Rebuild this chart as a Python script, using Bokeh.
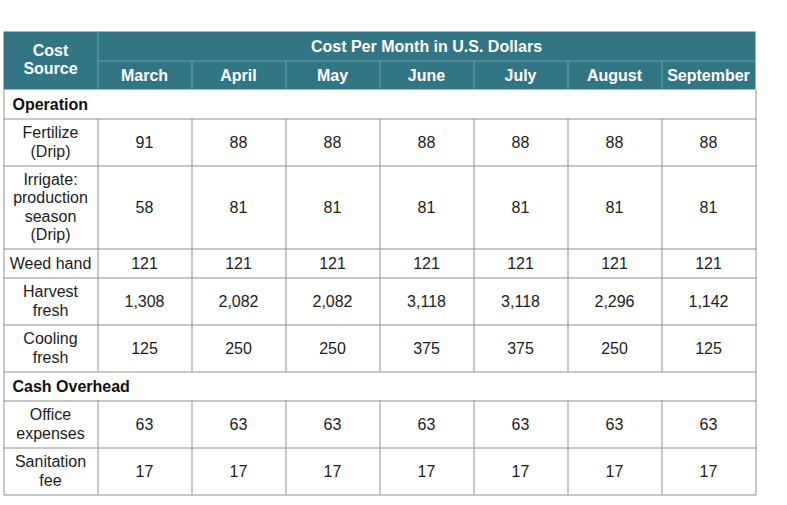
from bokeh.plotting import figure
from bokeh.models import Range1d
from bokeh.core.properties import value
from bokeh.embed import file_html
from bokeh.resources import INLINE

# ---------------- data ----------------
header_left = "Cost\nSource"
header_span = "Cost Per Month in U.S. Dollars"
months = ["March", "April", "May", "June", "July", "August", "September"]

section_operation = "Operation"
fertilize_label = "Fertilize\n(Drip)"
fertilize = [91, 88, 88, 88, 88, 88, 88]
irrigate_label = "Irrigate:\nproduction\nseason\n(Drip)"
irrigate = [58, 81, 81, 81, 81, 81, 81]
weed_label = "Weed hand"
weed_hand = [121, 121, 121, 121, 121, 121, 121]
harvest_label = "Harvest\nfresh"
harvest_fresh = [1308, 2082, 2082, 3118, 3118, 2296, 1142]
cooling_label = "Cooling\nfresh"
cooling_fresh = [125, 250, 250, 375, 375, 250, 125]

section_overhead = "Cash Overhead"
office_label = "Office\nexpenses"
office_expenses = [63, 63, 63, 63, 63, 63, 63]
sanitation_label = "Sanitation\nfee"
sanitation_fee = [17, 17, 17, 17, 17, 17, 17]

rows = [
    ("section", section_operation, None),
    ("item", fertilize_label, fertilize),
    ("item", irrigate_label, irrigate),
    ("item", weed_label, weed_hand),
    ("item", harvest_label, harvest_fresh),
    ("item", cooling_label, cooling_fresh),
    ("section", section_overhead, None),
    ("item", office_label, office_expenses),
    ("item", sanitation_label, sanitation_fee),
]

# ---------------- layout / style ----------------
W, H = 771, 497
X0 = 3
COL_W = 94
NCOL = 1 + len(months)
TOP = 31
HDR_MID = 60
HDR_BOT = 89
LINE_H = 18
PAD = 11
TEAL = "#327584"
HDR_LINE = "#6d9fab"
GRID = "#8f8f8f"
TXT = "#1c1c1c"
FONT = value("Liberation Sans")
LH = 1.06

col_edges = [X0 + i * COL_W for i in range(NCOL + 1)]
col_centers = [(col_edges[i] + col_edges[i + 1]) / 2 for i in range(NCOL)]
RIGHT = col_edges[-1]

p = figure(width=W, height=H, output_backend="svg", toolbar_location=None,
           x_range=Range1d(0, W), y_range=Range1d(H, 0),
           x_axis_type=None, y_axis_type=None, min_border=0,
           outline_line_color=None, background_fill_color="white",
           border_fill_color="white")
p.grid.visible = False

# header background
p.quad(left=[X0], right=[RIGHT], top=[TOP], bottom=[HDR_BOT],
       fill_color=TEAL, line_color=None)

# header inner lines
hx0, hy0, hx1, hy1 = [], [], [], []
hx0.append(col_edges[1] + 0.5); hx1.append(col_edges[1] + 0.5); hy0.append(TOP); hy1.append(HDR_BOT)
for i in range(2, NCOL):
    hx0.append(col_edges[i] + 0.5); hx1.append(col_edges[i] + 0.5); hy0.append(HDR_MID); hy1.append(HDR_BOT)
hx0.append(col_edges[1]); hx1.append(RIGHT); hy0.append(HDR_MID + 0.5); hy1.append(HDR_MID + 0.5)
p.segment(x0=hx0, y0=hy0, x1=hx1, y1=hy1, line_color=HDR_LINE, line_width=1)

# header text
p.text(x=[col_centers[0]], y=[(TOP + HDR_BOT) / 2 - 1], text=[header_left],
       text_font=FONT, text_font_size="16px", text_font_style="bold",
       text_color="white", text_align="center", text_baseline="middle",
       text_line_height=LH)
p.text(x=[(col_edges[1] + RIGHT) / 2], y=[(TOP + HDR_MID) / 2], text=[header_span],
       text_font=FONT, text_font_size="16px", text_font_style="bold",
       text_color="white", text_align="center", text_baseline="middle")
p.text(x=col_centers[1:], y=[(HDR_MID + HDR_BOT) / 2] * len(months), text=months,
       text_font=FONT, text_font_size="16px", text_font_style="bold",
       text_color="white", text_align="center", text_baseline="middle")

# body
gx0, gy0, gx1, gy1 = [], [], [], []
lab_x, lab_y, lab_t = [], [], []
val_x, val_y, val_t = [], [], []
sec_x, sec_y, sec_t = [], [], []
y = HDR_BOT
for kind, label, vals in rows:
    nlines = label.count("\n") + 1
    h = PAD + LINE_H * nlines
    yc = y + h / 2
    if kind == "section":
        sec_x.append(X0 + 9); sec_y.append(yc); sec_t.append(label)
        edges = [col_edges[0], col_edges[-1]]
    else:
        lab_x.append(col_centers[0]); lab_y.append(yc); lab_t.append(label)
        for j, v in enumerate(vals):
            val_x.append(col_centers[j + 1]); val_y.append(yc); val_t.append(f"{v:,}")
        edges = col_edges
    for e in edges:
        gx0.append(e + 0.5); gx1.append(e + 0.5); gy0.append(y); gy1.append(y + h)
    y += h
    gx0.append(X0); gx1.append(RIGHT + 1); gy0.append(y + 0.5); gy1.append(y + 0.5)

p.segment(x0=gx0, y0=gy0, x1=gx1, y1=gy1, line_color=GRID, line_width=1)

p.text(x=sec_x, y=sec_y, text=sec_t, text_font=FONT, text_font_size="16px",
       text_font_style="bold", text_color="#111111", text_align="left",
       text_baseline="middle")
p.text(x=lab_x, y=lab_y, text=lab_t, text_font=FONT, text_font_size="16px",
       text_color=TXT, text_align="center", text_baseline="middle",
       text_line_height=LH)
p.text(x=val_x, y=val_y, text=val_t, text_font=FONT, text_font_size="16px",
       text_color=TXT, text_align="center", text_baseline="middle")

open("out.html", "w").write(file_html(p, INLINE))
